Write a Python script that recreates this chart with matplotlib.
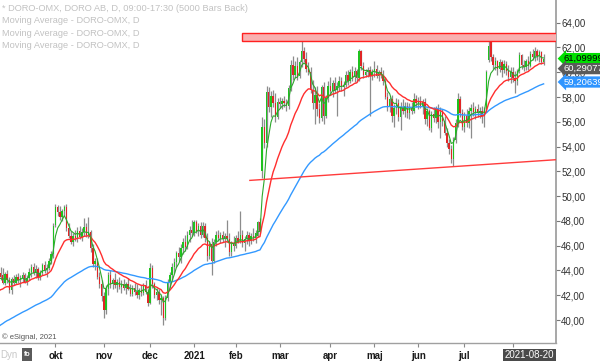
import numpy as np
import pandas as pd
import matplotlib
matplotlib.use("Agg")
import matplotlib.pyplot as plt
from matplotlib.patches import Rectangle
import matplotlib.transforms as mtransforms

plt.rcParams['font.family'] = ['Liberation Sans', 'DejaVu Sans']

# ---------------- data ----------------
holidays = ['2020-12-24', '2020-12-25', '2020-12-31', '2021-01-01', '2021-01-06',
            '2021-04-02', '2021-04-05', '2021-05-13', '2021-06-25']
start_date, end_date = '2020-08-26', '2021-08-20'

# closes before the visible window (only used to seed the moving averages)
pre_close = [36.2, 36.5, 36.0, 36.8, 36.4, 37.0, 36.6, 36.9, 36.3, 36.7,
             37.1, 36.8, 36.5, 37.2, 36.9, 37.4, 37.0, 36.8, 37.3, 37.6,
             41.8, 42.4, 42.0, 42.6, 42.9, 42.3, 42.7, 43.1, 42.5, 42.2,
             42.8, 43.0, 42.6, 42.4, 43.2, 42.9, 43.5, 43.1]

opens = [
    43.4, 43.8, 43.6, 43.0,  # aug
    43.7, 43.2, 42.4, 43.3, 43.0, 43.5, 43.2, 43.4, 43.6, 43.1, 43.4, 43.9, 44.3, 43.8, 44.1, 43.5, 43.8, 44.4, 44.0, 44.2, 44.8, 45.3,  # sep
    47.7, 49.1, 48.7, 48.3, 48.8, 49.1, 47.4, 46.8, 46.3, 46.8, 46.6, 47.2, 46.7, 47.1, 47.5, 46.9, 47.1, 45.8, 44.5, 44.8, 43.5, 42.9,  # oct
    41.9, 40.8, 42.5, 43.6, 42.9, 43.2, 42.8, 43.1, 42.7, 42.9, 42.6, 42.9, 42.5, 42.1, 42.6, 42.3, 42.0, 42.4, 42.2, 42.8, 42.3,  # nov
    41.4, 44.2, 42.9, 42.0, 42.3, 41.6, 41.8, 40.2, 41.8, 43.0, 43.6, 44.3, 44.7, 45.4, 45.1, 45.8, 46.3, 45.9, 46.9, 47.3,  # dec
    47.0, 47.9, 47.2, 47.6, 46.9, 47.6, 46.6, 45.2, 46.1, 44.8, 46.3, 46.9, 46.6, 46.9, 46.5, 46.8, 46.5, 45.5, 46.2,  # jan
    46.0, 46.6, 46.4, 46.9, 46.2, 46.5, 46.9, 46.4, 46.8, 46.6, 46.8, 47.9, 52.0, 55.6, 54.3, 58.4, 57.2, 58.1, 57.5, 56.4,  # feb
    57.6, 57.4, 57.7, 57.5, 57.3, 58.7, 60.6, 59.8, 60.5, 59.7, 60.8, 61.7, 61.1, 60.3, 60.0, 58.6, 57.5, 58.2, 57.0, 56.3, 58.8, 56.5, 57.9,  # mar
    58.9, 58.5, 59.1, 58.6, 58.9, 59.3, 58.8, 59.0, 59.8, 59.3, 60.0, 59.6, 60.1, 59.5, 61.7, 60.5, 59.8, 60.0, 60.2, 59.7,  # apr
    60.0, 60.3, 59.7, 60.0, 59.8, 59.3, 58.0, 57.2, 57.8, 56.5, 57.1, 57.5, 56.4, 57.2, 56.9, 57.3, 56.7, 57.2, 56.9, 57.8,  # may
    57.5, 57.7, 57.3, 57.6, 56.2, 56.9, 55.5, 56.6, 56.3, 57.0, 56.0, 56.8, 56.1, 55.1, 54.3, 53.8, 53.0, 54.5, 55.9, 57.8, 56.7,  # jun
    55.6, 56.5, 55.9, 56.9, 57.1, 56.8, 57.0, 56.7, 56.9, 56.5, 57.0, 61.0, 62.5, 61.2, 60.6, 60.9, 60.3, 60.8, 60.2, 60.7, 60.1, 59.6,  # jul
    60.0, 59.5, 59.3, 60.1, 61.4, 60.6, 60.4, 60.9, 60.5, 61.5, 61.2, 61.7, 61.3, 61.6, 60.8,  # aug
]
highs = [
    44.0, 44.3, 44.2, 43.9,
    44.0, 43.5, 43.5, 43.6, 43.7, 43.8, 43.6, 43.9, 43.8, 43.6, 44.2, 44.5, 44.6, 44.4, 44.3, 44.0, 44.6, 44.8, 44.5, 45.0, 45.6, 47.8,
    49.4, 49.3, 49.2, 49.0, 49.3, 49.4, 47.8, 47.2, 47.0, 47.3, 47.5, 47.6, 47.4, 48.2, 47.8, 48.3, 47.3, 46.1, 45.0, 45.0, 43.9, 43.2,
    42.3, 42.8, 43.9, 44.0, 43.4, 43.8, 43.3, 43.5, 43.2, 43.3, 43.1, 43.4, 42.9, 42.8, 43.0, 42.9, 42.6, 42.8, 43.0, 43.2, 42.5,
    44.6, 44.4, 43.1, 42.6, 42.5, 42.0, 41.9, 42.0, 43.3, 43.9, 44.6, 45.0, 45.6, 45.9, 46.1, 46.6, 46.9, 47.2, 47.6, 48.1,
    48.1, 48.1, 47.8, 47.9, 47.9, 47.8, 47.0, 46.4, 46.6, 46.5, 47.2, 47.3, 47.1, 47.2, 47.0, 48.1, 47.0, 46.4, 46.8,
    46.9, 47.2, 48.8, 47.3, 46.8, 47.2, 47.1, 47.0, 47.4, 47.3, 48.0, 48.2, 56.4, 56.2, 58.9, 58.8, 58.5, 58.6, 58.3, 57.9,
    58.0, 57.9, 58.1, 57.8, 59.0, 61.0, 61.3, 60.9, 61.2, 61.0, 62.8, 62.0, 61.6, 60.8, 60.4, 59.4, 58.8, 58.9, 57.5, 59.0, 59.2, 58.2, 59.3,
    59.6, 59.4, 59.6, 59.2, 59.7, 59.6, 59.3, 60.1, 60.2, 60.3, 60.5, 60.4, 60.3, 61.9, 61.8, 60.8, 60.3, 60.4, 60.5, 60.3,
    60.9, 60.6, 60.2, 60.4, 60.2, 59.6, 58.4, 58.0, 58.2, 57.4, 57.9, 57.8, 57.6, 57.8, 57.6, 57.6, 57.5, 57.6, 58.3, 58.2,
    58.0, 58.1, 57.8, 57.9, 57.1, 57.0, 56.9, 57.2, 57.3, 57.4, 57.2, 57.0, 56.5, 55.5, 54.6, 54.1, 54.8, 56.2, 58.3, 58.1, 57.0,
    56.8, 57.0, 57.2, 57.4, 57.6, 57.3, 57.4, 57.2, 57.3, 57.2, 60.2, 63.1, 62.6, 61.5, 61.2, 61.0, 61.1, 61.0, 61.0, 60.9, 60.6, 60.4,
    60.4, 60.1, 60.3, 61.6, 61.5, 61.0, 61.1, 61.3, 61.7, 61.9, 62.0, 61.9, 61.8, 61.7, 61.5,
]
lows = [
    43.1, 43.2, 42.9, 42.8,
    43.0, 42.2, 42.1, 42.8, 42.9, 43.0, 42.7, 43.1, 43.0, 42.8, 43.2, 43.5, 43.6, 43.4, 43.2, 43.2, 43.6, 43.8, 43.5, 44.0, 44.5, 45.0,
    47.5, 48.4, 48.1, 48.0, 48.4, 47.2, 46.6, 46.1, 46.0, 46.4, 46.3, 46.5, 46.4, 46.8, 46.7, 46.6, 45.5, 44.3, 44.0, 43.3, 42.6, 41.5,
    40.2, 40.5, 42.0, 42.6, 42.5, 42.6, 42.3, 42.5, 42.2, 42.4, 42.1, 42.4, 41.9, 41.9, 42.0, 41.8, 41.7, 41.9, 42.0, 42.1, 41.1,
    41.3, 42.6, 41.8, 41.6, 41.3, 40.4, 39.6, 40.0, 41.5, 42.6, 43.2, 43.8, 44.3, 44.8, 44.6, 45.3, 45.6, 45.7, 46.3, 46.8,
    46.8, 47.0, 46.8, 46.6, 46.7, 46.3, 44.8, 44.9, 43.6, 44.6, 46.0, 46.4, 46.2, 46.3, 45.9, 46.3, 45.2, 45.2, 45.6,
    45.8, 46.2, 46.2, 45.9, 45.6, 46.1, 46.0, 46.1, 46.4, 46.2, 46.7, 47.0, 51.5, 53.9, 54.0, 56.8, 56.4, 57.2, 56.0, 56.2,
    57.1, 57.0, 57.2, 56.9, 57.0, 58.5, 59.4, 59.5, 59.4, 59.5, 60.4, 60.8, 60.0, 59.8, 58.3, 57.0, 55.8, 56.5, 55.9, 56.1, 55.8, 56.3, 57.6,
    58.2, 58.0, 58.3, 56.5, 58.5, 58.5, 58.1, 58.8, 59.0, 59.1, 59.3, 59.2, 59.2, 59.3, 60.2, 59.5, 59.6, 59.6, 56.5, 59.4,
    59.6, 59.5, 59.3, 59.5, 59.0, 57.8, 56.9, 56.8, 56.0, 55.6, 56.6, 56.1, 55.3, 56.6, 56.4, 56.3, 56.2, 56.6, 56.7, 57.2,
    57.0, 57.1, 56.6, 55.8, 55.7, 55.3, 55.2, 56.0, 55.9, 55.5, 54.7, 55.7, 54.9, 54.0, 53.4, 52.7, 52.4, 54.3, 55.6, 56.4, 55.3,
    55.2, 55.6, 55.5, 54.7, 56.5, 56.2, 56.4, 56.3, 55.9, 55.6, 56.8, 60.8, 60.9, 60.3, 60.2, 59.8, 60.0, 59.6, 59.9, 59.8, 59.3, 59.1,
    59.2, 58.3, 59.0, 59.9, 60.3, 60.1, 60.2, 60.2, 60.4, 61.0, 60.9, 61.0, 60.8, 60.7, 60.6,
]
closes = [
    43.8, 43.5, 43.0, 43.7,
    43.2, 42.4, 43.3, 43.0, 43.5, 43.2, 43.4, 43.6, 43.1, 43.4, 43.9, 44.3, 43.8, 44.1, 43.5, 43.8, 44.4, 44.0, 44.2, 44.8, 45.3, 47.6,
    49.1, 48.7, 48.3, 48.8, 49.1, 47.4, 46.8, 46.3, 46.8, 46.6, 47.2, 46.7, 47.1, 47.5, 46.9, 47.1, 45.8, 44.5, 44.8, 43.5, 42.9, 41.9,
    40.8, 42.5, 43.6, 42.9, 43.2, 42.8, 43.1, 42.7, 42.9, 42.6, 42.9, 42.5, 42.1, 42.6, 42.3, 42.0, 42.4, 42.2, 42.8, 42.3, 41.4,
    44.2, 42.9, 42.0, 42.3, 41.6, 41.8, 40.2, 41.8, 43.0, 43.6, 44.3, 44.7, 45.4, 45.1, 45.8, 46.3, 45.9, 46.9, 47.3, 47.0,
    47.9, 47.2, 47.6, 46.9, 47.6, 46.6, 45.2, 46.1, 44.8, 46.3, 46.9, 46.6, 46.9, 46.5, 46.8, 46.5, 45.5, 46.2, 46.0,
    46.6, 46.4, 46.9, 46.2, 46.5, 46.9, 46.4, 46.8, 46.6, 47.0, 47.9, 47.2, 55.6, 54.3, 58.4, 57.2, 58.1, 57.5, 56.4, 57.6,
    57.4, 57.7, 57.5, 57.3, 58.7, 60.6, 59.8, 60.5, 59.7, 60.8, 61.7, 61.1, 60.3, 60.0, 58.6, 57.5, 58.2, 57.0, 56.3, 58.8, 56.5, 57.9, 58.9,
    58.5, 59.1, 58.6, 58.9, 59.3, 58.8, 59.0, 59.8, 59.3, 60.0, 59.6, 60.1, 59.5, 61.7, 60.5, 59.8, 60.0, 60.2, 59.7, 60.0,
    60.3, 59.7, 60.0, 59.8, 59.3, 58.0, 57.2, 57.8, 56.5, 57.1, 57.5, 56.4, 57.2, 56.9, 57.3, 56.7, 57.2, 56.9, 57.8, 57.5,
    57.7, 57.3, 57.6, 56.2, 56.9, 55.5, 56.6, 56.3, 57.0, 56.0, 56.8, 56.1, 55.1, 54.3, 53.8, 53.0, 54.5, 55.9, 57.8, 56.7, 55.6,
    56.5, 55.9, 56.9, 57.1, 56.8, 57.0, 56.7, 56.9, 56.5, 57.0, 60.0, 62.1, 61.2, 60.6, 60.9, 60.3, 60.8, 60.2, 60.7, 60.1, 59.6, 60.0,
    59.5, 59.3, 60.1, 61.4, 60.6, 60.4, 60.9, 60.5, 61.5, 61.2, 61.7, 61.3, 61.6, 60.8, 61.1,
]

ma_spans = [5, 17, 60]
ma_colors = ['#2ca82c', '#ff2e2e', '#3399ff']
ma_widths = [0.8, 1.0, 1.0]

month_labels = ['okt', 'nov', 'dec', '2021', 'feb', 'mar', 'apr', 'maj', 'jun', 'jul', '']
resist_start, resist_low, resist_high = '2021-02-04', 62.55, 63.14
support_pts = [('2021-02-09', 51.27), ('2021-06-23', 52.38)]
price_labels = [('61,09999', 61.10, '#00e000', '#000000'),
                ('60,29077', 60.29, '#5a5a5a', '#ffffff'),
                ('59,20639', 59.21, '#2f95ff', '#ffffff')]
legend_lines = ['* DORO-OMX, DORO AB, D, 09:00-17:30 (5000 Bars Back)',
                'Moving Average - DORO-OMX, D',
                'Moving Average - DORO-OMX, D',
                'Moving Average - DORO-OMX, D']

# ---------------- build ----------------
dates = pd.bdate_range(start_date, end_date)
dates = dates[~dates.isin(pd.to_datetime(holidays))]
n = min(len(dates), len(closes), len(opens), len(highs), len(lows))
dates = dates[:n]
o = np.array(opens[:n]); h = np.array(highs[:n]); l = np.array(lows[:n]); c = np.array(closes[:n])
x = np.arange(n)

W, H = 600, 361
fig = plt.figure(figsize=(W / 100, H / 100), dpi=100)
ax_bottom_px = 343.3
ax_right_px = 555.6
ax = fig.add_axes([0, (H - ax_bottom_px) / H, ax_right_px / W, ax_bottom_px / H])

def date_idx(d):
    return int(np.searchsorted(dates, pd.Timestamp(d)))

# candles
up = c >= o
ax.vlines(x, l, h, color='#8c8c8c', lw=0.9, zorder=2)
body_bottom = np.minimum(o, c)
body_h = np.maximum(np.abs(c - o), 0.06)
ax.bar(x, body_h, bottom=body_bottom, width=0.62,
       color=np.where(up, '#1fc21f', '#e02626'), linewidth=0, zorder=3)

# moving averages
full = pd.Series(pre_close + list(c))
xf = np.arange(-len(pre_close), n)
for k, (span, col, lw) in enumerate(zip(ma_spans, ma_colors, ma_widths)):
    ema = full.ewm(span=span, adjust=False).mean()
    ax.plot(xf, ema.values, color=col, lw=lw, zorder=6 - k)

# x limits: Oct 1 sits at 55.5 px with ~2.2 px per bar
oct_idx = date_idx('2020-10-01')
px_per_bar = (543.6 - 55.5) / (n - 1 - oct_idx)
x_left = oct_idx - 55.5 / px_per_bar
x_right = (n - 1) + (ax_right_px - 543.6) / px_per_bar
ax.set_xlim(x_left, x_right)
ax.set_ylim(38.12, 65.83)

# resistance zone
rx0 = date_idx(resist_start) - 0.3
ax.add_patch(Rectangle((rx0, resist_low), x_right - rx0 + 2, resist_high - resist_low,
                       facecolor='#f9b0b0', edgecolor='#ff2020', lw=1.0, zorder=7))
# support line
(d1, v1), (d2, v2) = support_pts
i1, i2 = date_idx(d1) + 0.4, date_idx(d2)
slope = (v2 - v1) / (i2 - i1)
ax.plot([i1, x_right], [v1, v1 + slope * (x_right - i1)], color='#ff3b3b', lw=1.0, zorder=7)

# axes styling
for s in ['top', 'left']:
    ax.spines[s].set_visible(False)
ax.spines['right'].set_color('#a0a0a0'); ax.spines['right'].set_linewidth(1.3)
ax.spines['bottom'].set_color('#a0a0a0'); ax.spines['bottom'].set_linewidth(1.0)
ax.yaxis.tick_right()
yt = np.arange(40, 65, 2)
ax.set_yticks(yt)
ax.set_yticklabels([f"{v:.2f}".replace('.', ',') for v in yt])
ax.tick_params(axis='y', length=3, width=0.8, color='#777777', labelsize=7,
               labelcolor='#333333', pad=1)

month_starts = [oct_idx]
for i in range(oct_idx + 1, n):
    if dates[i].month != dates[i - 1].month:
        month_starts.append(i)
month_starts = month_starts[:len(month_labels)]
ax.set_xticks(month_starts)
ax.set_xticklabels(month_labels[:len(month_starts)], fontweight='bold')
ax.tick_params(axis='x', length=3, width=0.8, color='#8a8a8a', labelsize=7,
               labelcolor='#1a1a1a', pad=2.5)

def fx(px): return px / W
def fy(py): return 1 - py / H

# legend text top-left
for k, t in enumerate(legend_lines):
    fig.text(fx(2), fy(8.5 + 12.4 * k), t, fontsize=6.7, color='#c2c2c2', va='center', ha='left')

fig.text(fx(2), fy(337), '\u00a9 eSignal, 2021', fontsize=5.5, color='#555555', va='center')
fig.text(fx(0), fy(355.5), 'Dyn', fontsize=7, color='#c8c8c8', va='center')
fig.patches.append(Rectangle((fx(22), fy(361)), fx(10), 13 / H, transform=fig.transFigure,
                             facecolor='#5a5a5a', edgecolor='none'))
fig.text(fx(27), fy(354), 'fo', fontsize=5, color='#ffffff', va='center', ha='center', fontweight='bold')
fig.text(fx(529.5), fy(355.5), dates[-1].strftime('%Y-%m-%d'), fontsize=7, color='#ffffff',
         va='center', ha='center',
         bbox=dict(boxstyle='square,pad=0.18', facecolor='#4a4a4a', edgecolor='none'))

# right price labels
trans = mtransforms.blended_transform_factory(ax.transAxes, ax.transData)
for txt, val, fc, tc in price_labels:
    ax.text(1.0 + 8 / ax_right_px, val, txt, transform=trans, fontsize=6.8, color=tc,
            va='center', ha='left', clip_on=False, zorder=20,
            bbox=dict(boxstyle='larrow,pad=0.12', facecolor=fc, edgecolor='none'))

fig.savefig('out.png', dpi=100)
